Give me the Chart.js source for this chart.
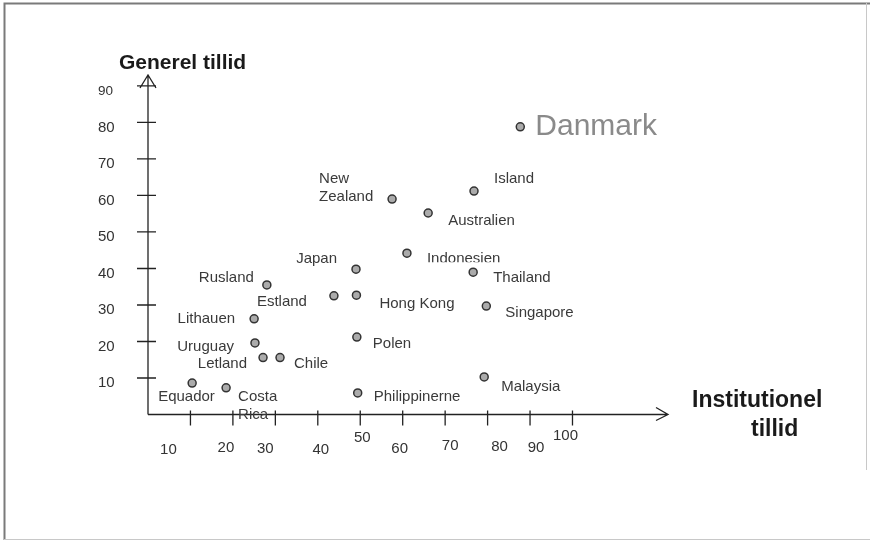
<!DOCTYPE html>
<html>
<head>
<meta charset="utf-8">
<script src="https://cdn.jsdelivr.net/npm/chart.js@4/dist/chart.umd.min.js"></script>
<style>
  body { margin: 0; background: #fff; }
  #wrap { width: 870px; height: 540px; }
</style>
</head>
<body>
<div id="wrap"><canvas id="mygraph" width="870" height="540"></canvas></div>
<script>
// Countries and their trust values
const countries = ['Danmark', 'Island', 'New\nZealand', 'Australien', 'Indonesien', 'Japan',
  'Thailand', 'Rusland', 'Estland', 'Hong Kong', 'Singapore', 'Lithauen', 'Polen',
  'Uruguay', 'Letland', 'Chile', 'Malaysia', 'Equador', 'Costa\nRica', 'Philippinerne'];
// x: institutionel tillid
const instTrust = [87.7, 76.8, 57.5, 66.0, 61.0, 49.0, 76.6, 28.0, 43.8, 49.1, 79.7, 25.0, 49.2,
  25.2, 27.1, 31.1, 79.2, 10.4, 18.4, 49.4];
// y: generel tillid
const genTrust = [78.8, 61.2, 59.0, 55.2, 44.2, 39.8, 39.0, 35.5, 32.5, 32.7, 29.7, 26.2, 21.2,
  19.6, 15.6, 15.6, 10.3, 8.6, 7.3, 5.9];

const xTicks = [10, 20, 30, 40, 50, 60, 70, 80, 90, 100];
const yTicks = [10, 20, 30, 40, 50, 60, 70, 80, 90];

// label placement next to each point: [dx, dy, align]
const labelNudge = [
  [15, 0, 'left'], [20, -12, 'left'], [-73, -20, 'left'], [20, 8, 'left'], [20, 6, 'left'],
  [-19, -10, 'right'], [20, 6, 'left'], [-13, -7, 'right'], [-27, 6, 'right'], [23, 9, 'left'],
  [19, 7, 'left'], [-19, 0, 'right'], [16, 7, 'left'], [-21, 4, 'right'], [-16, 6, 'right'],
  [14, 6, 'left'], [17, 10, 'left'], [-34, 14, 'left'], [12, 9, 'left'], [16, 4, 'left']
];
// hand placed tick labels (offset from tick, in px)
const xTickNudge = [[-22, 35], [-7, 33], [-10, 34], [3, 35], [2, 23], [-3, 34], [5, 31], [12, 32], [6, 33], [-7, 21]];

const FONT = '"Liberation Sans", Arial, sans-serif';

const points = instTrust.map((x, i) => ({ x: x, y: genTrust[i] }));

// draws the hand-made looking axes, ticks, titles and point labels
const axesPlugin = {
  id: 'axesPlugin',
  beforeDraw(chart) {
    const ctx = chart.ctx;
    ctx.save();
    ctx.fillStyle = '#fff';
    ctx.fillRect(0, 0, chart.width, chart.height);
    // outer frame
    ctx.strokeStyle = '#7a7a7a';
    ctx.lineWidth = 2;
    ctx.beginPath();
    ctx.moveTo(4.5, 540); ctx.lineTo(4.5, 3.5); ctx.lineTo(870, 3.5);
    ctx.stroke();
    ctx.strokeStyle = '#c8c8c8';
    ctx.lineWidth = 1;
    ctx.beginPath();
    ctx.moveTo(866.5, 3); ctx.lineTo(866.5, 470);
    ctx.moveTo(4, 539.5); ctx.lineTo(870, 539.5);
    ctx.stroke();
    ctx.restore();
  },
  afterDatasetsDraw(chart) {
    const ctx = chart.ctx;
    const xs = chart.scales.x, ys = chart.scales.y;
    const x0 = xs.getPixelForValue(0), y0 = ys.getPixelForValue(0);
    const a = chart.chartArea;
    ctx.save();
    ctx.strokeStyle = '#222';
    ctx.lineWidth = 1.3;
    ctx.beginPath();
    // y axis with arrow
    ctx.moveTo(x0, y0); ctx.lineTo(x0, a.top);
    ctx.moveTo(x0 - 8, a.top + 13); ctx.lineTo(x0, a.top); ctx.lineTo(x0 + 8, a.top + 13);
    // x axis with arrow
    ctx.moveTo(x0, y0); ctx.lineTo(a.right, y0);
    ctx.moveTo(a.right - 12, y0 - 7); ctx.lineTo(a.right, y0); ctx.lineTo(a.right - 12, y0 + 6);
    // ticks
    yTicks.forEach(v => {
      const p = ys.getPixelForValue(v);
      ctx.moveTo(x0 - 11, p); ctx.lineTo(x0 + 8, p);
    });
    xTicks.forEach(v => {
      const p = xs.getPixelForValue(v);
      ctx.moveTo(p, y0 - 4); ctx.lineTo(p, y0 + 11);
    });
    ctx.stroke();

    // tick labels
    ctx.fillStyle = '#333';
    ctx.textBaseline = 'middle';
    ctx.textAlign = 'left';
    yTicks.forEach(v => {
      ctx.font = (v === 90 ? '13.5px ' : '15px ') + FONT;
      ctx.fillText(String(v), 98, ys.getPixelForValue(v) + 5);
    });
    ctx.font = '15px ' + FONT;
    ctx.textAlign = 'center';
    xTicks.forEach((v, i) => {
      ctx.fillText(String(v), xs.getPixelForValue(v) + xTickNudge[i][0], y0 + xTickNudge[i][1]);
    });

    // axis titles
    ctx.fillStyle = '#1a1a1a';
    ctx.font = 'bold 21px ' + FONT;
    ctx.textAlign = 'left';
    ctx.fillText('Generel tillid', 119, 63);
    ctx.font = 'bold 23px ' + FONT;
    ctx.fillText('Institutionel', 692, 401);
    ctx.fillText('tillid', 751, 430);

    // point labels
    const meta = chart.getDatasetMeta(0);
    meta.data.forEach((pt, i) => {
      const n = labelNudge[i];
      const lines = countries[i].split('\n');
      ctx.save();
      if (i === 0) {
        ctx.font = '30px ' + FONT;
        ctx.fillStyle = '#8a8a8a';
      } else {
        ctx.font = '15px ' + FONT;
        ctx.fillStyle = '#3a3a3a';
      }
      if (countries[i] === 'Indonesien') {
        // the original cuts the bottom of this label
        ctx.beginPath();
        ctx.rect(pt.x, pt.y - 20, 200, 29);
        ctx.clip();
      }
      ctx.textAlign = n[2];
      lines.forEach((line, k) => {
        ctx.fillText(line, pt.x + n[0], pt.y + n[1] + k * 18);
      });
      ctx.restore();
    });
    ctx.restore();
  }
};

new Chart(document.getElementById('mygraph'), {
  type: 'scatter',
  data: {
    datasets: [{
      data: points,
      pointRadius: 4,
      pointBackgroundColor: '#ababab',
      pointBorderColor: '#333',
      pointBorderWidth: 1.5
    }]
  },
  options: {
    responsive: false,
    animation: false,
    layout: { padding: { left: 148, top: 75, right: 202, bottom: 125.5 } },
    plugins: { legend: { display: false }, tooltip: { enabled: false } },
    scales: {
      x: { type: 'linear', min: 0, max: 122.5, display: false },
      y: { type: 'linear', min: 0, max: 93, display: false }
    }
  },
  plugins: [axesPlugin]
});
</script>
</body>
</html>
